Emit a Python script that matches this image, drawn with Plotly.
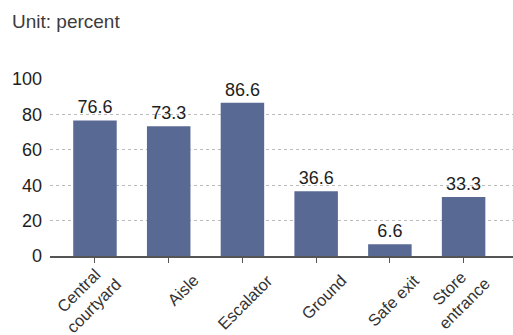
import plotly.graph_objects as go

categories = ["Central<br>courtyard", "Aisle", "Escalator", "Ground", "Safe exit", "Store<br>entrance"]
values = [76.6, 73.3, 86.6, 36.6, 6.6, 33.3]
y_ticks = [0, 20, 40, 60, 80, 100]

xs = list(range(len(categories)))

fig = go.Figure(go.Bar(
    x=xs, y=values,
    marker=dict(color="#586a94", line=dict(width=0)),
    text=[f"{v:.1f}" for v in values], textposition="outside",
    textfont=dict(size=18, color="#1e1e1e"), cliponaxis=False,
))

annotations = [dict(text="Unit: percent", xref="paper", yref="paper", x=-0.086, y=1.0,
                    xanchor="left", yanchor="bottom", yshift=45, showarrow=False,
                    font=dict(size=19, color="#3c3c3c"))]
for xi, lab in zip(xs, categories):
    extra = lab.count("<br>")
    annotations.append(dict(text=lab, xref="x", yref="y", x=xi, y=0,
                            xanchor="right", yanchor="top", textangle=-45,
                            xshift=36 - 4 * extra, yshift=-12 + 12 * extra, showarrow=False,
                            font=dict(size=16.5, color="#333")))

fig.update_layout(
    width=513, height=335, margin=dict(l=50, r=0, t=79, b=79),
    paper_bgcolor="white", plot_bgcolor="white",
    font=dict(family="Liberation Sans, Arial, sans-serif", color="#333"),
    bargap=0.41, showlegend=False, annotations=annotations,
)
fig.update_xaxes(
    range=[-0.61, 5.67], tickmode="array", tickvals=xs, showticklabels=False,
    automargin=False,
    showline=True, linecolor="#555", linewidth=1.5, ticks="outside", ticklen=5,
    tickcolor="#555", showgrid=False, zeroline=False,
)
fig.update_yaxes(
    range=[0, 100], tickvals=y_ticks, tickfont=dict(size=18, color="#1e1e1e"),
    showgrid=True, gridcolor="#bbb", griddash="dot", gridwidth=1,
    zeroline=False, showline=False, ticks="", ticklabelstandoff=7, automargin=False,
)
fig.write_html("out.html")
